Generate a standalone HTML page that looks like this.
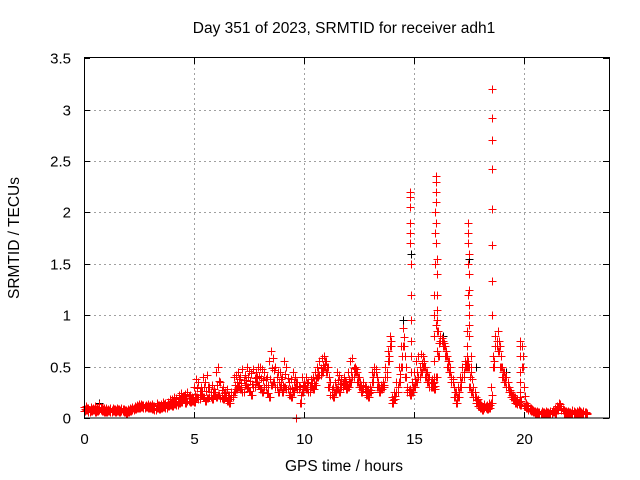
<!DOCTYPE html>
<html><head><meta charset="utf-8"><style>
body{margin:0;background:#fff}
svg{display:block;font-family:"Liberation Sans",sans-serif}
</style></head><body>
<svg id="chart" width="640" height="480">
<text x="344" y="33" text-anchor="middle" font-size="15.5">Day 351 of 2023, SRMTID for receiver adh1</text>
<text x="344" y="471" text-anchor="middle" font-size="15.5">GPS time / hours</text>
<text transform="translate(19,238) rotate(-90)" text-anchor="middle" font-size="15.5">SRMTID / TECUs</text>
<g id="grid"></g><g id="ticks"></g><g id="marks" shape-rendering="crispEdges"></g>
<rect x="84.5" y="57.5" width="525" height="360.5" fill="none" stroke="#000" stroke-width="1"/>
</svg>
<script>
const xTicks=[0,5,10,15,20];
const yTicks=[0,0.5,1,1.5,2,2.5,3,3.5];
const yTickLabels=["0","0.5","1","1.5","2","2.5","3","3.5"];
const vMain=[.07,.08,.06,.07,.08,.06,.07,.08,.07,.06,
.06,.07,.06,.07,.06,.07,.06,.07,.06,.05,
.06,.07,.08,.09,.1,.1,.11,.1,.11,.1,
.1,.09,.08,.1,.09,.1,.11,.1,.12,.13,
.12,.14,.13,.15,.16,.18,.15,.17,.16,.17,
.16,.2,.18,.22,.2,.17,.19,.2,.18,.22,
.2,.22,.19,.18,.2,.17,.15,.2,.25,.28,
.3,.28,.25,.32,.3,.26,.22,.3,.35,.32,
.28,.25,.3,.24,.2,.32,.35,.3,.25,.3,
.25,.3,.28,.22,.2,.25,.3,.28,.15,.25,
.3,.28,.25,.3,.28,.32,.4,.42,.45,.5,
.45,.3,.22,.2,.25,.28,.25,.3,.32,.28,
.3,.35,.4,.45,.35,.3,.25,.28,.22,.2,
.25,.35,.45,.3,.25,.28,.3,.4,.55,.7,
.15,.18,.25,.35,.5,.7,.4,.25,.22,.25,
.3,.35,.4,.45,.5,.4,.35,.3,.3,.28,
.4,.6,.75,.7,.6,.5,.45,.35,.2,.15,
.2,.3,.4,.5,.5,.3,.25,.2,.15,.12,
.1,.08,.1,.09,.1,.15,.5,.7,.65,.5,
.4,.35,.3,.25,.2,.18,.15,.14,.13,.5,
.12,.1,.08,.07,.06,.05,.05,.04,.05,.04,
.05,.04,.05,.06,.05,.08,.12,.08,.05,.05,
.05,.04,.05,.04,.05,.05,.04,.05,.04];
const vUpper=[.11,.12,.1,.11,.1,.12,.1,.14,.1,.1,
.1,.09,.1,.1,.09,.1,.09,.1,.09,.08,
.09,.1,.11,.12,.13,.14,.14,.13,.13,.14,
.13,.14,.12,.15,.13,.14,.16,.15,.16,.18,
.18,.2,.19,.22,.24,.21,.23,.25,.22,.2,
.3,.38,.35,.3,.4,.35,.42,.3,.32,.28,
.45,.5,.35,.3,.25,.28,.22,.25,.4,.42,
.45,.4,.48,.42,.5,.46,.44,.48,.45,.5,
.5,.48,.45,.4,.55,.65,.58,.5,.45,.45,
.4,.55,.5,.35,.38,.45,.4,.35,.3,.4,
.35,.4,.35,.38,.4,.45,.5,.55,.58,.6,
.55,.5,.35,.3,.35,.45,.42,.38,.4,.35,
.45,.55,.58,.5,.45,.4,.32,.35,.3,.28,
.3,.45,.5,.4,.3,.32,.35,.5,.65,.8,
.2,.25,.35,.5,.7,.88,.6,.3,.28,.35,
.45,.55,.6,.62,.6,.5,.45,.4,.38,.35,
.9,.85,.8,.75,.7,.6,.55,.4,.3,.25,
.3,.4,.5,.55,.6,.5,.5,.3,.2,.18,
.15,.12,.14,.13,.15,.3,.6,.8,.85,.7,
.5,.45,.4,.3,.25,.22,.2,.18,.2,.7,
.3,.15,.12,.1,.08,.07,.07,.06,.07,.06,
.07,.06,.07,.08,.1,.12,.15,.1,.08,.07,
.07,.06,.08,.06,.07,.08,.06,.07,.06];
const tSpike=[14.8,14.8,14.8,14.8,14.8,14.8,14.85,14.85,14.85,14.85,14.85,14.85,14.9,14.9,
15.95,15.95,15.95,16.0,16.0,16.0,16.0,16.0,16.0,16.05,16.05,16.05,16.05,16.05,16.05,15.9,15.9,15.9,15.9,15.9,
17.45,17.45,17.45,17.45,17.45,17.5,17.5,17.5,17.5,17.5,17.5,17.5,17.4,17.4,17.4,17.6,17.6,17.6,
18.55,18.55,18.55,18.55,18.55,18.55,18.55,18.55,
19.8,19.8,19.8,19.8,19.8,19.8,9.65];
const vSpike=[1.7,1.9,2.05,2.15,2.2,1.8,1.5,1.2,0.95,0.75,0.6,0.45,0.35,0.25,
1.5,1.8,2.0,2.35,2.3,2.2,2.1,1.9,1.7,1.55,1.4,1.2,1.05,0.95,0.85,0.8,1.0,1.2,0.55,0.4,
1.2,1.5,1.7,1.9,1.8,1.6,1.4,1.25,1.1,1.0,0.9,0.8,0.85,0.7,0.55,0.6,0.5,0.45,
3.2,2.92,2.7,2.42,2.03,1.68,1.33,1.0,
0.75,0.7,0.6,0.45,0.35,0.25,0.0];
const tBlack=[14.85,16.05,16.0,17.5,18.55,18.55,18.55,18.55,14.5,0.7,9.2,16.3,17.8,19.2];
const vBlack=[1.6,1.4,2.35,1.55,2.92,2.03,1.68,3.2,0.95,0.15,0.5,0.8,0.5,0.45];
const tStep=0.1;
const NS="http://www.w3.org/2000/svg";
const X=t=>84+t*22, Y=v=>418-v*102.8;
function mk(tag,attrs,parent){const e=document.createElementNS(NS,tag);for(const k in attrs)e.setAttribute(k,attrs[k]);parent.appendChild(e);return e;}
const grid=document.getElementById('grid'),ticks=document.getElementById('ticks'),marks=document.getElementById('marks');
xTicks.forEach(t=>{
  const x=Math.round(X(t))+0.5;
  if(t>0){const g=mk('line',{x1:x,x2:x,y1:58,y2:418,stroke:'#a0a0a0','stroke-dasharray':'2,3'},grid);
  
  }
  mk('line',{x1:x,x2:x,y1:418,y2:412,stroke:'#000'},ticks);
  mk('line',{x1:x,x2:x,y1:58,y2:64,stroke:'#000'},ticks);
  const l=mk('text',{x:x,y:444,'text-anchor':'middle','font-size':'15'},ticks);
  l.textContent=t;
  
  
});
yTicks.forEach((v,i)=>{
  const y=Math.round(Y(v))+0.5;
  if(v>0&&v<3.5){const g=mk('line',{x1:84,x2:609,y1:y,y2:y,stroke:'#a0a0a0','stroke-dasharray':'2,3'},grid);
  
  }
  mk('line',{x1:84,x2:90,y1:y,y2:y,stroke:'#000'},ticks);
  mk('line',{x1:603,x2:609,y1:y,y2:y,stroke:'#000'},ticks);
  const l=mk('text',{x:71,y:y+5,'text-anchor':'end','font-size':'15'},ticks);
  l.textContent=yTickLabels[i];
  
  
});
function plus(t,v,color,name){
  const x=Math.round(X(t))+0.5,y=Math.round(Y(v))+0.5;
  const p=mk('path',{d:`M${x-4},${y}h8M${x},${y-4}v8`,stroke:color,'stroke-width':'1',fill:'none'},marks);
  
  
}
tBlack.forEach((t,i)=>plus(t,vBlack[i],'#000','black-point'));
vMain.forEach((v,i)=>{
  plus(i*tStep,v,'#f00','srmtid-point');
  plus(i*tStep+0.05,v,'#f00','srmtid-point');
  plus(i*tStep+0.05,(v+vUpper[i])/2,'#f00','srmtid-point');
  plus(i*tStep,vUpper[i],'#f00','srmtid-point');
});
tSpike.forEach((t,i)=>plus(t,vSpike[i],'#f00','srmtid-spike-point'));
</script>
</body></html>
